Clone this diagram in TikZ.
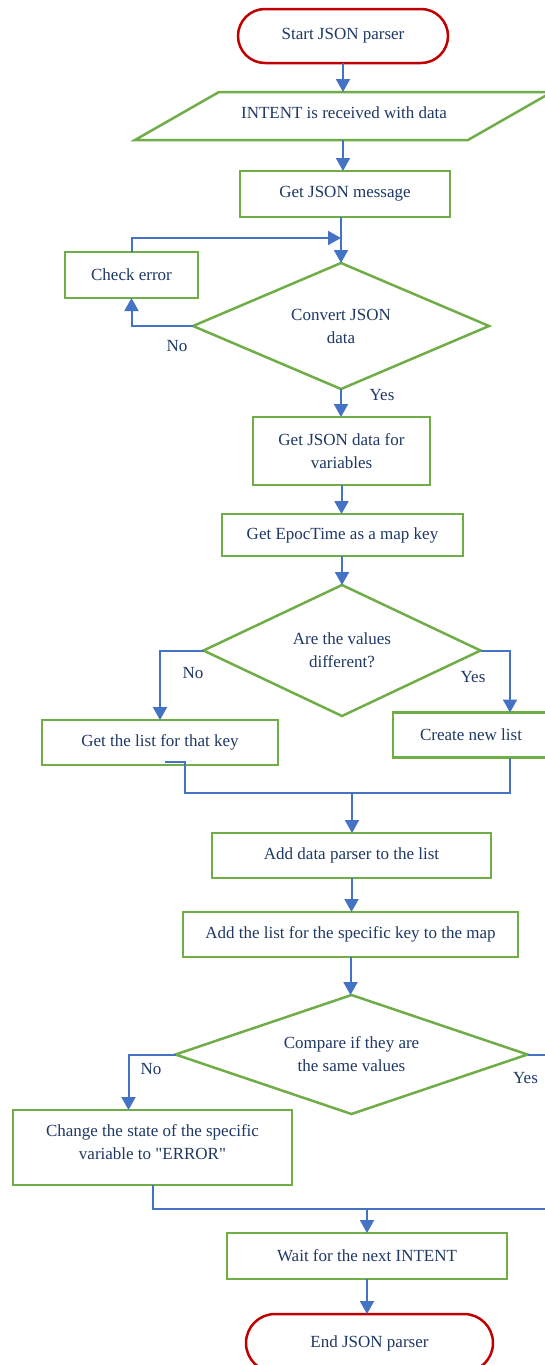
\documentclass[tikz,border=0pt]{standalone}
\usepackage{fontspec}
\setmainfont{Liberation Serif}
\usetikzlibrary{arrows.meta,shapes.geometric}
\definecolor{gr}{HTML}{70AD47}
\definecolor{bl}{HTML}{4472C4}
\definecolor{rd}{HTML}{C00000}
\definecolor{tx}{HTML}{1F3864}
\begin{document}
\begin{tikzpicture}[x=1pt,y=-1pt,
 every node/.style={font=\fontsize{17}{23}\selectfont, text=tx, inner sep=0pt, outer sep=0pt},
 box/.style={draw=gr, line width=2.5pt, rectangle, align=center},
 term/.style={draw=rd, line width=2.5pt, rectangle},
 dec/.style={draw=gr, line width=2.5pt, diamond, aspect=2.3, align=center},
 conn/.style={draw=bl, line width=2pt},
 arr/.style={conn, -{Triangle[width=14pt,length=13pt]}},
 lbl/.style={}]
\useasboundingbox (0,0) rectangle (545,1365);
\clip (0,0) rectangle (545,1365);
\fill[white] (0,0) rectangle (545,1365);

% nodes
\node[term, rounded corners=27pt, minimum width=210, minimum height=54] (start) at (343,36) {Start JSON parser};
\node[minimum width=333, minimum height=48] (intent) at (343,116) {};
\draw[gr, line width=2.5pt] (219,92) -- (552,92) -- (468,140) -- (135,140) -- cycle;
\node (intenttext) at (344,113) {INTENT is received with data};
\node[box, minimum width=210, minimum height=46] (msg) at (345,194) {Get JSON message};
\node[box, minimum width=133, minimum height=46] (checkerr) at (131.5,275) {Check error};
\node[dec, minimum width=296, minimum height=126] (convert) at (341,326) {Convert JSON\\data};
\node[box, minimum width=177, minimum height=68] (getdata) at (341.5,451) {Get JSON data for\\variables};
\node[box, minimum width=241, minimum height=42] (epoc) at (342.5,535) {Get EpocTime as a map key};
\node[dec, minimum width=277, minimum height=131] (diff) at (342,650.5) {Are the values\\different?};
\node[box, minimum width=236, minimum height=45] (getlist) at (160,742.5) {Get the list for that key};
\node[box, minimum width=156, minimum height=45] (newlist) at (471,735) {Create new list};
\node[box, minimum width=279, minimum height=45] (addparser) at (351.5,855.5) {Add data parser to the list};
\node[box, minimum width=335, minimum height=45] (addlist) at (350.5,934.5) {Add the list for the specific key to the map};
\node[dec, minimum width=352, minimum height=119] (compare) at (351.5,1054.5) {Compare if they are\\the same values};
\node[box, minimum width=279, minimum height=75] (change) at (152.5,1147.5) {};
\node[align=center] (changetext) at (152.5,1142) {Change the state of the specific\\variable to \textquotedbl ERROR\textquotedbl};
\node[box, minimum width=280, minimum height=46] (wait) at (367,1256) {Wait for the next INTENT};
\node[term, rounded corners=29pt, minimum width=247, minimum height=58] (end) at (369.5,1343) {End JSON parser};

% labels
\node[lbl] (no1) at (177,346) {No};
\node[lbl] (yes1) at (382,395) {Yes};
\node[lbl] (no2) at (193,673) {No};
\node[lbl] (yes2) at (473,677) {Yes};
\node[lbl] (no3) at (151,1069) {No};
\node[lbl] (yes3) at (525.5,1078) {Yes};

% connectors
\draw[arr] (start.south) -- (intent.north);
\draw[arr] (intent.south) -- (intent.south |- msg.north);
\draw[arr] (msg.south -| convert.north) -- (convert.north);
\draw[arr] (checkerr.north) |- ([yshift=25pt]convert.north);
\draw[arr] (convert.west) -| (checkerr.south);
\draw[arr] (convert.south) -- (convert.south |- getdata.north);
\draw[arr] (getdata.south) -- (getdata.south |- epoc.north);
\draw[arr] (epoc.south -| diff.north) -- (diff.north);
\draw[arr] (diff.west) -| (getlist.north);
\draw[arr] (diff.east) -| ([xshift=39pt]newlist.north);
\draw[conn] ([xshift=5pt,yshift=3pt]getlist.south) -- ++(20,0) |- ([xshift=39pt,yshift=-35pt]newlist.south) -- ([xshift=39pt]newlist.south);
\coordinate (m1) at (352,793);
\draw[arr] (m1) -- (m1 |- addparser.north);
\draw[arr] (addparser.south) -- (addparser.south |- addlist.north);
\draw[arr] (addlist.south) -- (addlist.south |- compare.north);
\draw[arr] (compare.west) -| ([xshift=-24pt]change.north);
\coordinate (j3) at (367,1209);
\draw[conn] (compare.east) -- ++(40,0) |- (j3);
\draw[conn] (change.south) |- (j3);
\draw[arr] (j3) -- (wait.north);
\draw[arr] (wait.south) -- (wait.south |- end.north);
\end{tikzpicture}
\end{document}
